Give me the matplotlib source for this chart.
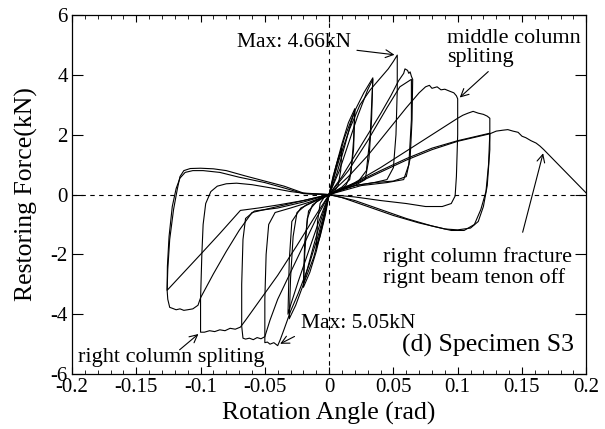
import numpy as np
import matplotlib.pyplot as plt
from matplotlib.ticker import MultipleLocator

# -------------------------
# Hysteresis half-cycles: (rotation rad, force kN)
# -------------------------
p1 = [(0, 0), (0.003, 0.6), (0.007, 1.2), (0.01, 1.55), (0.009, 0.8), (0.007, 0.3), (0.004, 0.1), (0, 0)]
p2 = [(0, 0), (0.005, 0.9), (0.01, 1.7), (0.015, 2.4), (0.02, 2.87), (0.019, 1.8), (0.017, 0.7),
      (0.013, 0.3), (0.006, 0.1), (0, 0)]
p2b = [(0, 0), (0.006, 0.7), (0.012, 1.6), (0.017, 2.4), (0.02, 2.8), (0.019, 1.5), (0.016, 0.5),
       (0.01, 0.25), (0, 0)]
p3 = [(0, 0), (0.006, 1.0), (0.012, 1.9), (0.02, 2.8), (0.027, 3.4), (0.034, 3.9), (0.033, 2.5),
      (0.031, 1.2), (0.028, 0.5), (0.02, 0.3), (0.01, 0.15), (0, 0)]
p3b = [(0, 0), (0.008, 0.8), (0.015, 1.7), (0.022, 2.6), (0.03, 3.5), (0.034, 3.85), (0.032, 2.0),
       (0.029, 0.8), (0.022, 0.4), (0.01, 0.2), (0, 0)]
p4 = [(0, 0), (0.008, 1.2), (0.016, 2.2), (0.024, 3.0), (0.032, 3.5), (0.04, 3.9), (0.046, 4.2),
      (0.05, 4.45), (0.053, 4.66), (0.053, 3.5), (0.052, 2.0), (0.05, 0.9), (0.045, 0.5),
      (0.035, 0.4), (0.02, 0.3), (0.008, 0.15), (0, 0)]
p5 = [(0, 0), (0.01, 0.6), (0.02, 1.3), (0.03, 2.0), (0.04, 2.7), (0.048, 3.3), (0.054, 3.8),
      (0.058, 4.05), (0.059, 4.2), (0.061, 4.15), (0.062, 4.05), (0.063, 4.1), (0.064, 3.95),
      (0.065, 3.85), (0.0645, 2.5), (0.063, 1.2), (0.06, 0.6), (0.05, 0.45), (0.035, 0.4),
      (0.02, 0.3), (0.008, 0.15), (0, 0)]
p5b = [(0, 0), (0.015, 0.8), (0.03, 1.8), (0.045, 2.9), (0.055, 3.6), (0.064, 3.85), (0.064, 2.5),
       (0.062, 1.0), (0.058, 0.5), (0.045, 0.4), (0.025, 0.3), (0, 0)]
p6 = [(0, 0), (0.015, 0.6), (0.03, 1.3), (0.045, 2.1), (0.06, 2.9), (0.07, 3.4), (0.075, 3.6),
      (0.078, 3.65), (0.08, 3.55), (0.084, 3.6), (0.087, 3.5), (0.09, 3.52), (0.094, 3.45),
      (0.097, 3.4), (0.099, 3.3), (0.1, 3.2), (0.1, 2.0), (0.099, 0.6), (0.098, -0.05),
      (0.095, -0.3), (0.088, -0.4), (0.075, -0.4), (0.06, -0.3), (0.04, -0.2), (0.02, -0.08), (0, 0)]
p7 = [(0, 0), (0.02, 0.4), (0.04, 0.9), (0.06, 1.45), (0.08, 2.0), (0.1, 2.55), (0.104, 2.65),
      (0.108, 2.72), (0.112, 2.78), (0.116, 2.72), (0.12, 2.68), (0.123, 2.62), (0.125, 2.55),
      (0.125, 1.5), (0.123, 0.3), (0.12, -0.4), (0.116, -0.9), (0.11, -1.12), (0.1, -1.18),
      (0.09, -1.15), (0.07, -0.95), (0.05, -0.7), (0.03, -0.4), (0.01, -0.1), (0, 0)]
p7b = [(0, 0), (0.02, 0.38), (0.04, 0.8), (0.06, 1.2), (0.08, 1.55), (0.1, 1.8), (0.125, 2.05),
       (0.124, 1.0), (0.122, 0.1), (0.118, -0.5), (0.113, -1.0), (0.105, -1.2), (0.095, -1.2),
       (0.08, -1.05), (0.06, -0.8), (0.04, -0.5), (0.02, -0.2), (0, 0)]
p8 = [(0, 0), (0.02, 0.35), (0.04, 0.75), (0.06, 1.15), (0.08, 1.5), (0.1, 1.78), (0.125, 2.03),
      (0.13, 2.12), (0.135, 2.15), (0.139, 2.17), (0.143, 2.12), (0.147, 2.08), (0.15, 1.95),
      (0.153, 1.9), (0.157, 1.8), (0.161, 1.72), (0.164, 1.62), (0.167, 1.5), (0.2, 0.05)]

n1 = [(0, 0), (-0.003, -0.7), (-0.007, -1.4), (-0.01, -1.8), (-0.009, -0.9), (-0.007, -0.3),
      (-0.004, -0.1), (0, 0)]
n2 = [(0, 0), (-0.005, -1.0), (-0.01, -1.9), (-0.015, -2.6), (-0.02, -3.1), (-0.019, -2.0),
      (-0.017, -0.8), (-0.013, -0.35), (-0.006, -0.12), (0, 0)]
n2b = [(0, 0), (-0.006, -0.8), (-0.012, -1.7), (-0.017, -2.5), (-0.02, -3.0), (-0.019, -1.6),
       (-0.016, -0.55), (-0.01, -0.25), (0, 0)]
n3 = [(0, 0), (-0.006, -1.1), (-0.012, -2.1), (-0.02, -3.0), (-0.026, -3.7), (-0.031, -4.15),
      (-0.03, -2.8), (-0.028, -1.4), (-0.025, -0.6), (-0.018, -0.35), (-0.008, -0.15), (0, 0)]
n3b = [(0, 0), (-0.008, -0.9), (-0.016, -1.9), (-0.024, -2.9), (-0.03, -3.7), (-0.032, -4.0),
       (-0.031, -2.2), (-0.029, -0.9), (-0.022, -0.45), (-0.01, -0.2), (0, 0)]
n4 = [(0, 0), (-0.008, -1.3), (-0.016, -2.4), (-0.024, -3.3), (-0.03, -3.9), (-0.035, -4.5),
      (-0.038, -4.85), (-0.04, -5.05), (-0.043, -4.95), (-0.046, -5.0), (-0.048, -4.93),
      (-0.05, -4.95), (-0.05, -3.5), (-0.049, -2.0), (-0.047, -1.0), (-0.042, -0.6),
      (-0.03, -0.45), (-0.015, -0.25), (0, 0)]
n5 = [(0, 0), (-0.01, -0.8), (-0.02, -1.7), (-0.03, -2.6), (-0.04, -3.5), (-0.046, -4.2),
      (-0.05, -4.75), (-0.053, -4.82), (-0.056, -4.78), (-0.059, -4.85), (-0.062, -4.8),
      (-0.065, -4.83), (-0.067, -4.8), (-0.068, -4.4), (-0.068, -3.0), (-0.067, -1.5),
      (-0.065, -0.8), (-0.058, -0.55), (-0.04, -0.45), (-0.02, -0.25), (0, 0)]
n6 = [(0, 0), (-0.012, -0.8), (-0.025, -1.7), (-0.04, -2.7), (-0.055, -3.6), (-0.065, -4.2),
      (-0.069, -4.43), (-0.073, -4.5), (-0.077, -4.47), (-0.081, -4.55), (-0.085, -4.52),
      (-0.089, -4.58), (-0.093, -4.55), (-0.097, -4.6), (-0.1, -4.6), (-0.1, -3.5), (-0.099, -2.0),
      (-0.098, -1.0), (-0.096, -0.3), (-0.092, 0.1), (-0.087, 0.28), (-0.08, 0.36), (-0.072, 0.38),
      (-0.06, 0.33), (-0.045, 0.22), (-0.03, 0.1), (-0.015, 0.02), (0, 0)]
n7 = [(0, 0), (-0.015, -0.15), (-0.03, -0.3), (-0.045, -0.45), (-0.06, -0.6), (-0.07, -1.2),
      (-0.08, -1.9), (-0.09, -2.65), (-0.1, -3.45), (-0.102, -3.7), (-0.106, -3.82), (-0.11, -3.85),
      (-0.113, -3.87), (-0.116, -3.82), (-0.119, -3.85), (-0.122, -3.8), (-0.124, -3.77),
      (-0.1255, -3.5), (-0.126, -3.2), (-0.1255, -2.5), (-0.124, -1.5), (-0.121, -0.5),
      (-0.118, 0.2), (-0.116, 0.6), (-0.113, 0.8), (-0.108, 0.87), (-0.1, 0.88), (-0.09, 0.86),
      (-0.08, 0.8), (-0.065, 0.62), (-0.05, 0.45), (-0.035, 0.28), (-0.02, 0.05), (0, 0)]
n7b = [(0, 0), (-0.02, -0.2), (-0.04, -0.35), (-0.055, -0.45), (-0.069, -0.53), (-0.085, -1.3),
       (-0.1, -2.0), (-0.113, -2.6), (-0.126, -3.2), (-0.1258, -2.4), (-0.1245, -1.4),
       (-0.122, -0.4), (-0.119, 0.2), (-0.116, 0.55), (-0.112, 0.74), (-0.106, 0.8),
       (-0.098, 0.8), (-0.085, 0.74), (-0.07, 0.58), (-0.05, 0.4), (-0.035, 0.22),
       (-0.02, 0.03), (0, 0)]

cycles = [p1, n1, p2, n2, p2b, n2b, p3, n3, p3b, n3b, p4, n4, p5, n5, p5b,
          p6, n6, p7, n7b, p7b, n7, p8]

x_ticks = [-0.2, -0.15, -0.1, -0.05, 0, 0.05, 0.1, 0.15, 0.2]
x_tick_labels = ['-0.2', '-0.15', '-0.1', '-0.05', '0', '0.05', '0.1', '0.15', '0.2']
y_ticks = [-6, -4, -2, 0, 2, 4, 6]
y_tick_labels = ['-6', '-4', '-2', '0', '2', '4', '6']

# -------------------------
# Plotting
# -------------------------
plt.rcParams['font.family'] = ['Liberation Serif', 'DejaVu Serif']
fig = plt.figure(figsize=(6.05, 4.29), dpi=100)
ax = fig.add_axes([0.119, 0.128, 0.850, 0.837])

for c in cycles:
    arr = np.array(c)
    ax.plot(arr[:, 0], arr[:, 1], color='black', lw=0.8)

ax.axhline(0, color='black', lw=0.8, ls=(0, (4, 4)))
ax.axvline(0, color='black', lw=0.8, ls=(0, (4, 4)))

ax.set_xlim(-0.2, 0.2)
ax.set_ylim(-6, 6)
ax.set_xticks(x_ticks)
ax.set_xticklabels(x_tick_labels)
ax.xaxis.set_minor_locator(MultipleLocator(0.01))
ax.set_yticks(y_ticks)
ax.set_yticklabels(y_tick_labels)
ax.tick_params(which='both', direction='in', top=True, right=True, labelsize=15, pad=3)
ax.tick_params(axis='x', which='major', length=5)
ax.tick_params(axis='x', which='minor', length=3)
ax.tick_params(axis='y', which='major', length=8)
for s in ax.spines.values():
    s.set_linewidth(0.9)

ax.set_xlabel('Rotation Angle (rad)', fontsize=18.5, labelpad=3)
ax.set_ylabel('Restoring Force(kN)', fontsize=18.5, labelpad=9)

arrow = dict(arrowstyle='->', color='black', lw=0.8, mutation_scale=14)
ax.annotate('Max: 4.66kN', xy=(0.053, 4.66), xytext=(-0.027, 5.07), fontsize=15.5,
            ha='center', va='center', arrowprops=arrow)
ax.annotate('middle column\nspliting', xy=(0.1, 3.18), xytext=(0.092, 4.9), fontsize=16,
            ha='left', va='center', linespacing=1.0, arrowprops=arrow)
ax.annotate('right column fracture\nrignt beam tenon off', xy=(0.167, 1.47),
            xytext=(0.042, -2.45), fontsize=16, ha='left', va='center', linespacing=1.05)
ax.annotate('', xy=(0.167, 1.47), xytext=(0.15, -1.35), arrowprops=arrow)
ax.annotate('Max: 5.05kN', xy=(-0.04, -5.03), xytext=(0.0226, -4.3), fontsize=15.5,
            ha='center', va='center')
ax.annotate('', xy=(-0.04, -5.03), xytext=(-0.025, -4.7), arrowprops=arrow)
ax.annotate('right column spliting', xy=(-0.1, -4.6), xytext=(-0.123, -5.43), fontsize=16,
            ha='center', va='center')
ax.annotate('', xy=(-0.1, -4.6), xytext=(-0.118, -5.25), arrowprops=arrow)
ax.text(0.057, -5.03, '(d) Specimen S3', fontsize=18.5, ha='left', va='center')

fig.savefig('out.png', dpi=100)
